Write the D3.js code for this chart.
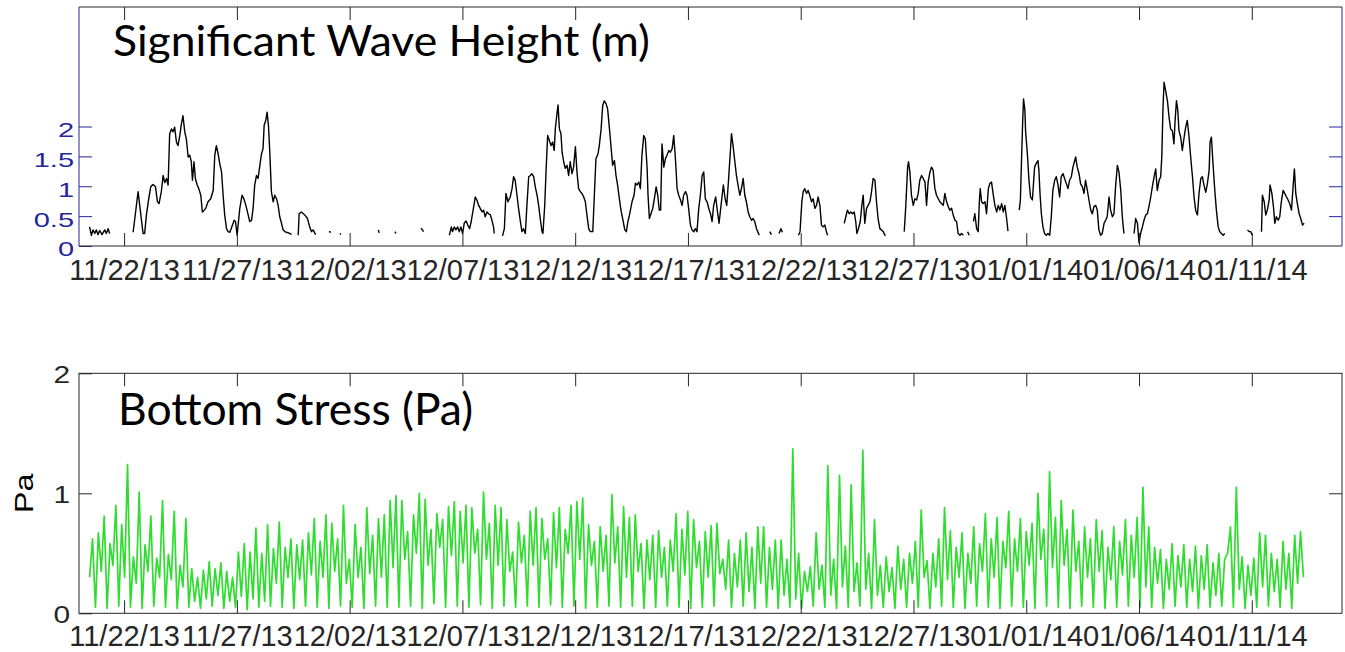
<!DOCTYPE html>
<html>
<head>
<meta charset="utf-8">
<script src="https://cdn.jsdelivr.net/npm/d3@7"></script>
<style>
  html, body { margin: 0; padding: 0; background: #fff; }
  svg { display: block; }
</style>
</head>
<body>
<svg id="chart" width="1345" height="652"></svg>
<script>
// ---------------------------------------------------------------
// Data
// ---------------------------------------------------------------

// Date tick labels shared by both panels
const tickLabels = ["11/22/13", "11/27/13", "12/02/13", "12/07/13", "12/12/13",
                    "12/17/13", "12/22/13", "12/27/13", "01/01/14", "01/06/14", "01/11/14"];

// Significant wave height (m); time in days since 2013-11-20 00:00 UTC.
// null marks a gap in the record.
const waveDay = [
  0.47,0.55,0.62,0.70,0.77,0.84,0.92,1.02,1.14,1.21,1.29,1.36,null,
  2.40,2.62,2.84,2.91,2.99,3.09,3.18,3.28,3.39,3.48,3.55,3.65,3.73,3.80,3.88,3.95,4.02,4.10,4.17,4.24,4.32,4.39,4.47,4.54,4.61,4.69,4.76,4.84,4.91,4.98,5.03,5.10,5.16,5.24,5.31,5.40,5.47,5.55,5.62,5.72,5.84,5.95,6.02,6.09,6.17,6.24,6.32,6.39,6.46,6.54,6.61,6.69,6.88,6.94,7.01,7.13,7.23,7.31,7.40,7.50,7.57,7.65,7.72,7.79,7.87,7.94,8.02,8.09,8.16,8.21,8.28,8.34,8.40,8.46,8.53,8.61,8.68,8.76,8.83,8.90,8.98,9.05,9.13,9.20,9.35,9.42,null,
  9.72,9.76,9.86,10.01,10.13,10.23,10.31,10.38,10.49,null,
  11.08,11.17,null,11.57,11.61,null,13.27,13.31,null,14.01,14.05,null,15.17,15.28,null,
  16.42,16.51,16.56,16.64,16.71,16.79,16.86,16.93,17.01,17.08,17.16,17.24,17.32,17.39,17.50,17.57,17.64,17.72,17.79,17.87,17.94,18.01,18.09,18.16,18.24,18.31,18.38,18.41,null,
  18.78,18.86,18.93,19.02,19.12,19.20,19.27,19.34,19.42,19.49,19.57,19.64,19.71,19.79,19.86,19.94,20.01,20.08,20.16,20.23,20.31,20.38,20.45,20.53,20.57,20.65,20.71,20.78,20.85,20.93,21.00,21.07,21.12,21.19,21.24,21.30,21.37,21.42,21.49,21.56,21.64,21.71,21.78,21.86,21.93,22.01,22.08,22.15,22.23,22.30,22.38,22.45,22.52,22.60,22.67,22.78,22.85,22.92,23.01,23.07,23.15,23.22,23.29,23.37,23.44,23.52,23.59,23.66,23.74,23.81,23.88,23.96,24.03,24.12,24.20,24.27,24.34,24.42,24.52,24.61,24.67,24.74,24.82,24.89,24.96,25.04,25.11,25.19,25.23,25.29,25.36,25.44,25.51,25.59,25.66,25.73,25.79,25.85,25.93,26.00,26.07,26.15,26.22,26.30,26.37,26.44,26.52,26.59,26.67,26.74,26.81,26.89,26.96,27.03,27.11,27.18,27.26,27.33,27.40,27.48,27.55,27.63,27.70,27.77,27.85,27.92,28.00,28.07,28.14,28.23,28.31,28.38,28.50,28.57,28.65,28.72,28.79,28.87,28.93,29.00,29.08,29.15,29.22,29.30,29.37,29.45,29.52,29.59,29.67,29.74,29.82,29.89,29.96,30.04,30.16,null,
  30.63,30.70,null,31.04,31.12,31.19,null,
  31.90,31.97,32.05,32.11,32.18,32.26,32.33,32.40,32.48,32.55,32.63,32.70,32.77,32.85,32.92,32.99,33.07,33.14,33.19,null,
  33.93,34.00,34.07,34.15,34.22,34.30,34.37,34.44,34.49,34.56,34.64,34.71,34.77,34.84,34.92,34.99,35.07,35.14,35.21,35.29,35.36,35.43,35.51,35.58,35.66,35.75,null,
  36.59,36.66,36.74,36.78,36.84,36.91,36.99,37.06,37.14,37.21,37.28,37.36,37.43,37.51,37.58,37.65,37.73,37.80,37.87,37.95,38.02,38.10,38.17,38.24,38.32,38.39,38.47,38.54,38.61,38.69,38.76,38.84,38.91,38.98,39.06,39.13,39.21,null,
  39.40,39.47,null,
  39.66,39.72,39.80,39.87,39.92,39.96,40.02,40.09,40.17,40.24,40.32,40.39,40.46,40.54,40.61,40.69,40.76,40.83,40.91,40.98,41.05,41.13,41.19,null,
  41.69,41.74,41.79,41.84,41.88,41.94,41.97,42.05,42.12,42.19,42.27,42.30,42.37,42.44,42.52,42.56,42.61,42.67,42.74,42.81,42.89,42.96,43.04,43.11,43.18,43.26,43.33,43.41,43.48,43.55,43.63,43.70,43.78,43.85,43.92,44.00,44.07,44.15,44.19,44.26,44.34,44.41,44.49,44.56,44.63,44.71,44.78,44.86,44.93,45.00,45.08,45.15,45.22,45.30,45.37,45.45,45.52,45.59,45.67,45.74,45.82,45.89,45.96,46.04,46.11,46.19,46.26,46.33,null,
  46.78,46.85,46.93,47.00,47.07,47.15,47.22,47.30,47.37,47.44,47.52,47.59,47.67,47.74,47.81,47.89,47.96,48.01,48.06,48.11,48.18,48.26,48.33,48.40,48.48,48.55,48.60,48.66,48.72,48.77,48.85,48.92,49.00,49.07,49.14,49.22,49.29,49.37,49.44,49.51,49.59,49.66,49.74,49.81,49.88,49.96,50.03,50.11,50.15,50.21,50.28,50.36,50.43,50.51,50.58,50.65,50.73,50.80,null,
  51.81,51.88,51.95,52.03,null,
  52.43,52.47,52.55,52.62,52.69,52.77,52.81,52.89,52.96,53.02,53.09,53.17,53.24,53.31,53.39,53.46,53.54,53.61,53.68,53.76,53.83,53.89,53.95,54.02,54.10,54.17,54.25,54.32
];
const waveHs = [
  0.32,0.18,0.27,0.21,0.27,0.19,0.26,0.19,0.27,0.21,0.29,0.21,null,
  0.23,0.91,0.21,0.21,0.52,0.79,0.99,1.03,0.99,0.74,0.71,0.91,1.18,1.06,1.13,1.02,1.88,1.96,1.91,1.99,1.74,1.68,1.85,2.04,2.18,1.91,1.79,1.49,1.52,1.41,1.10,1.41,1.13,1.02,0.96,0.85,0.57,0.60,0.63,0.74,0.79,0.93,1.52,1.68,1.54,1.38,1.24,0.85,0.52,0.29,0.24,0.23,0.43,0.41,0.18,0.63,0.85,0.79,0.68,0.52,0.41,0.43,0.63,1.02,1.18,1.13,1.35,1.54,1.63,2.02,2.10,2.24,2.02,1.57,0.91,0.74,0.85,0.79,0.68,0.49,0.38,0.27,0.24,0.23,0.21,0.19,null,
  0.18,0.54,0.57,0.52,0.46,0.32,0.24,0.27,0.19,null,
  0.24,0.23,null,0.19,0.21,null,0.27,0.22,null,0.24,0.21,null,0.30,0.24,null,
  0.18,0.32,0.24,0.32,0.27,0.32,0.24,0.32,0.21,0.38,0.42,0.35,0.29,0.41,0.66,0.82,0.77,0.68,0.63,0.57,0.60,0.49,0.57,0.54,0.52,0.43,0.32,0.21,null,
  0.17,0.29,0.88,0.74,0.82,0.96,1.16,1.10,0.85,0.63,0.41,0.24,0.29,0.21,0.68,1.16,1.18,1.21,1.16,0.99,0.85,0.68,0.46,0.24,0.21,0.68,1.27,1.85,1.77,1.68,1.74,1.60,1.96,2.21,2.36,1.96,1.88,1.57,1.41,1.30,1.35,1.18,1.41,1.21,1.32,1.66,1.24,0.96,0.91,0.88,0.82,0.74,0.52,0.29,0.24,0.24,0.85,1.46,1.54,1.68,1.96,2.35,2.43,2.38,2.29,1.96,1.66,1.35,1.43,1.18,1.02,0.79,0.60,0.43,0.27,0.24,0.41,0.54,0.74,0.85,1.05,1.02,1.07,0.96,1.52,1.85,1.79,1.30,0.85,0.46,0.54,0.63,0.79,0.99,0.85,0.60,0.60,1.71,1.32,1.46,1.52,1.60,1.57,1.63,1.85,1.49,0.96,0.85,0.77,0.68,0.85,0.91,0.85,0.63,0.35,0.27,0.24,0.29,0.24,0.63,0.85,1.18,1.24,0.79,0.74,0.63,0.54,0.41,0.68,0.82,0.57,0.38,0.79,1.02,0.79,0.68,1.05,1.52,1.88,1.68,1.41,1.18,1.02,0.85,0.96,1.13,0.85,0.74,0.57,0.49,0.43,0.46,0.41,0.29,0.18,null,
  0.24,0.19,null,0.21,0.29,0.23,null,
  0.18,0.24,0.74,0.91,0.96,0.88,0.93,0.85,0.74,0.79,0.63,0.68,0.82,0.68,0.35,0.32,0.35,0.24,0.18,null,
  0.38,0.49,0.60,0.54,0.57,0.54,0.57,0.41,0.21,0.29,0.41,0.68,0.85,0.38,0.63,0.68,0.74,0.91,1.13,1.10,0.74,0.46,0.29,0.27,0.24,0.17,null,
  0.24,0.68,1.32,1.41,1.24,0.85,0.68,0.79,0.77,0.88,1.10,1.18,1.13,1.07,0.68,1.07,1.24,1.32,1.27,0.96,0.85,0.79,0.74,0.71,0.68,0.88,0.74,0.66,0.60,0.63,0.52,0.43,0.41,0.21,0.18,0.21,0.18,null,
  0.24,0.18,null,
  0.41,0.54,0.29,0.24,0.74,0.96,0.74,0.71,0.74,0.54,0.96,1.05,1.07,0.85,0.68,0.57,0.68,0.60,0.71,0.57,0.68,0.46,0.25,null,
  0.60,0.77,1.43,2.07,2.46,2.27,1.93,1.54,1.10,0.82,0.77,0.93,1.32,1.38,1.43,1.27,0.88,0.54,0.32,0.21,0.18,0.21,0.18,0.49,0.93,1.10,1.16,1.02,0.82,1.16,1.21,1.13,1.04,0.96,1.10,1.16,1.32,1.43,1.49,1.32,1.21,1.04,0.99,0.88,1.10,0.93,0.77,0.60,0.54,0.66,0.68,0.60,0.27,0.18,0.21,0.38,0.43,0.49,0.82,0.60,0.49,0.54,0.99,1.35,1.24,0.93,0.49,0.21,null,
  0.21,0.46,0.38,0.05,0.21,0.32,0.43,0.52,0.54,0.66,0.82,0.99,1.16,1.29,0.93,1.10,1.16,1.49,2.27,2.74,2.60,2.43,2.16,1.96,1.93,1.71,2.10,2.43,2.27,1.93,1.82,1.60,1.82,1.99,2.10,1.82,1.49,1.16,0.82,0.60,0.52,0.88,1.13,1.16,1.02,0.90,1.04,1.27,1.74,1.82,1.38,0.93,0.60,0.32,0.24,0.21,0.18,0.21,null,
  0.27,0.24,0.24,0.18,null,
  0.24,0.85,0.74,0.52,0.60,0.77,1.02,0.88,0.66,0.38,0.49,0.43,0.49,0.74,0.93,0.88,0.82,0.77,0.71,0.60,0.99,1.29,0.88,0.71,0.54,0.46,0.35,0.38
];

// Bottom stress (Pa): alternating slack-water minima and tidal maxima,
// one value every half tidal half-cycle from the start of the record.
const stressStartDay = 0.47;
const stressStepHours = 3.105;
const stressPeak = [
  0.62,0.67,0.81,0.58,0.90,0.74,1.24,0.47,1.01,0.57,
  0.81,0.46,0.94,0.49,0.85,0.40,0.79,0.37,0.30,0.36,
  0.43,0.37,0.42,0.35,0.30,0.51,0.58,0.51,0.71,0.50,
  0.74,0.54,0.76,0.55,0.62,0.57,0.61,0.67,0.79,0.60,
  0.82,0.75,0.62,0.90,0.45,0.74,0.55,0.88,0.65,0.79,
  0.82,0.94,0.98,0.94,0.68,0.82,1.00,0.95,0.70,0.83,
  0.78,0.89,0.93,0.85,0.90,0.88,0.70,1.01,0.75,0.90,
  0.88,0.78,0.51,0.76,0.65,0.85,0.88,0.79,0.62,0.84,
  0.88,0.70,0.90,0.93,0.96,0.74,0.60,0.72,0.65,0.99,
  0.72,0.89,0.80,0.82,0.58,0.61,0.65,0.69,0.55,0.61,
  0.83,0.70,0.85,0.78,0.60,0.68,0.73,0.75,0.45,0.61,
  0.50,0.61,0.67,0.55,0.72,0.72,0.55,0.61,0.61,0.45,
  1.37,0.50,0.35,0.39,0.67,0.40,1.23,0.45,1.15,0.56,
  1.07,0.42,1.36,0.50,0.78,0.40,0.47,0.38,0.56,0.45,
  0.50,0.60,0.86,0.44,0.50,0.62,0.88,0.69,0.55,0.67,
  0.50,0.72,0.58,0.83,0.62,0.80,0.60,0.85,0.62,0.79,
  0.68,0.75,1.00,0.70,1.18,0.80,0.94,0.70,0.86,0.60,
  0.72,0.62,0.78,0.69,0.55,0.72,0.60,0.78,0.65,0.80,
  1.05,0.72,0.55,0.53,0.45,0.58,0.48,0.57,0.45,0.56,
  0.48,0.57,0.42,0.50,0.45,0.72,1.05,0.47,0.40,0.46,
  0.67,0.65,0.50,0.45,0.60,0.50,0.65,0.68
];
const stressTrough = [
  0.30,0.05,0.35,0.04,0.40,0.06,0.30,0.05,0.25,0.04,0.35,0.06,0.30,0.05,0.28,0.04,0.22,
  0.05,0.10,0.04,0.12,0.06,0.15,0.04,0.10,0.05,0.14,0.03,0.12,0.05,0.10,
  0.06,0.25,0.05,0.30,0.04,0.28,0.06,0.32,0.05,0.30,0.04,0.35,0.06,0.25,0.05,0.30,0.04,0.33,0.06,0.30,0.05,0.38,
  0.05,0.45,0.06,0.50,0.04,0.40,0.08,0.55,0.05,0.48,0.06,0.42,0.05,0.50,0.07,0.45,0.04,0.40,0.06,0.35,0.05,0.42,0.06,0.40,0.05,0.45,0.07,0.38,0.05,0.50,0.06,0.45,0.04,0.40,0.05,0.35,0.06,0.42,0.05,0.30,0.06,0.35,0.04,0.28,0.05,0.30,0.06,0.35,0.05,0.32,0.04,0.38,0.05,0.30,0.06,
  0.33,0.20,0.05,0.22,0.06,0.18,0.04,0.25,0.05,0.20,0.04,0.15,0.05,0.12,0.04,0.18,0.06,0.20,0.05,0.15,0.04,0.22,0.05,0.18,0.06,0.20,0.04,0.15,0.05,0.18,0.04,0.20,0.05,
  0.25,0.05,0.30,0.04,0.22,0.06,0.28,0.05,0.30,0.04,0.25,0.06,0.35,0.05,0.30,0.04,0.38,0.06,0.35,0.05,0.40,0.04,0.45,0.06,0.38,0.05,0.40,0.04,0.35,0.06,0.30,0.05,0.35,0.04,0.28,0.05,0.32,0.06,0.30,0.05,
  0.22,0.05,0.25,0.04,0.20,0.06,0.22,0.05,0.18,0.04,0.20,0.05,0.15,0.06,0.50,0.05,0.20,0.04,0.15,0.05,0.22,0.06,0.18,0.05,0.20,0.04,0.25,0.30
];

// ---------------------------------------------------------------
// Layout
// ---------------------------------------------------------------
const svg = d3.select("#chart");
const DAY = 864e5;
const origin = Date.UTC(2013, 10, 20);
const toDate = d => new Date(origin + d * DAY);
const parseTick = d3.utcParse("%m/%d/%y");
const tickDates = tickLabels.map(parseTick);
const fmtTick = d3.utcFormat("%m/%d/%y");

const left = 79, right = 1342;
const top1 = 7, bot1 = 246;
const top2 = 373.3, bot2 = 613.3;

const x = d3.scaleUtc()
  .domain([new Date(origin), toDate(56)])
  .range([left, right]);

const yWave = d3.scaleLinear().domain([0, 4]).range([bot1, top1]);
const yStress = d3.scaleLinear().domain([0, 2]).range([bot2, top2]);

const BLUE = "#25259c";
const AXIS = "#262626";
const TICK_FONT = "'Liberation Sans', Arial, sans-serif";
const TITLE_FONT = "Lato, 'Open Sans', sans-serif";

function styleAxis(g, color) {
  g.select(".domain").remove();
  g.selectAll(".tick line").attr("stroke", color).attr("stroke-width", 1);
  g.selectAll(".tick text").attr("fill", color).style("font-family", TICK_FONT);
}

// ---------------- top panel: wave height ----------------
const p1 = svg.append("g");

const waveData = waveDay.map((d, i) => ({ t: d == null ? null : toDate(d), v: waveHs[i] }));
const waveLine = d3.line()
  .defined(d => d.t != null && d.v != null)
  .x(d => x(d.t))
  .y(d => yWave(d.v));
p1.append("path")
  .datum(waveData)
  .attr("fill", "none")
  .attr("stroke", "#000")
  .attr("stroke-width", 1.4)
  .attr("stroke-linejoin", "round")
  .attr("d", waveLine);

// bottom date axis (ticks point inward)
p1.append("g")
  .attr("transform", `translate(0,${bot1})`)
  .call(d3.axisBottom(x).tickValues(tickDates).tickFormat(fmtTick).tickSize(-13).tickPadding(13.4))
  .call(g => styleAxis(g, AXIS))
  .call(g => g.selectAll(".tick text").style("font-size", "29px"));

// top edge ticks
p1.append("g")
  .attr("transform", `translate(0,${top1})`)
  .call(d3.axisTop(x).tickValues(tickDates).tickFormat("").tickSize(-13))
  .call(g => styleAxis(g, AXIS));

// left value axis (blue)
p1.append("g")
  .attr("transform", `translate(${left},0)`)
  .call(d3.axisLeft(yWave).tickValues([0, 0.5, 1, 1.5, 2]).tickFormat(d3.format("~g")).tickSize(-13).tickPadding(5))
  .call(g => styleAxis(g, BLUE))
  .call(g => g.selectAll(".tick text")
    .style("font-size", "21px")
    .attr("dy", "0.47em")
    .attr("transform", "scale(1.38,1)")
    .attr("x", -5 / 1.38));

// right value ticks (blue)
p1.append("g")
  .attr("transform", `translate(${right},0)`)
  .call(d3.axisRight(yWave).tickValues([0.5, 1, 1.5, 2]).tickFormat("").tickSize(-13))
  .call(g => styleAxis(g, BLUE));

// frame
p1.append("line").attr("x1", left).attr("x2", right).attr("y1", top1).attr("y2", top1).attr("stroke", AXIS);
p1.append("line").attr("x1", left).attr("x2", right).attr("y1", bot1).attr("y2", bot1).attr("stroke", AXIS);
p1.append("line").attr("x1", left).attr("x2", left).attr("y1", top1).attr("y2", bot1).attr("stroke", BLUE);
p1.append("line").attr("x1", right).attr("x2", right).attr("y1", top1).attr("y2", bot1).attr("stroke", BLUE);

p1.append("text")
  .attr("x", 113).attr("y", 56)
  .attr("textLength", 537).attr("lengthAdjust", "spacingAndGlyphs")
  .style("font-family", TITLE_FONT).style("font-size", "43px").attr("fill", "#000")
  .text("Significant Wave Height (m)");

// ---------------- bottom panel: bottom stress ----------------
const p2 = svg.append("g");

const stressData = [];
for (let k = 0; k < stressTrough.length + stressPeak.length; k++) {
  const v = (k % 2 === 0) ? stressTrough[k / 2] : stressPeak[(k - 1) / 2];
  stressData.push({ t: toDate(stressStartDay + k * stressStepHours / 24), v });
}
p2.append("path")
  .datum(stressData)
  .attr("fill", "none")
  .attr("stroke", "#2fdc2f")
  .attr("stroke-width", 1.7)
  .attr("stroke-linejoin", "round")
  .attr("d", d3.line().x(d => x(d.t)).y(d => yStress(d.v)));

p2.append("g")
  .attr("transform", `translate(0,${bot2})`)
  .call(d3.axisBottom(x).tickValues(tickDates).tickFormat(fmtTick).tickSize(-13).tickPadding(12))
  .call(g => styleAxis(g, AXIS))
  .call(g => g.selectAll(".tick text").style("font-size", "29px"));

p2.append("g")
  .attr("transform", `translate(0,${top2})`)
  .call(d3.axisTop(x).tickValues(tickDates).tickFormat("").tickSize(-13))
  .call(g => styleAxis(g, AXIS));

p2.append("g")
  .attr("transform", `translate(${left},0)`)
  .call(d3.axisLeft(yStress).tickValues([0, 1, 2]).tickFormat(d3.format("d")).tickSize(-13).tickPadding(9))
  .call(g => styleAxis(g, AXIS))
  .call(g => g.selectAll(".tick text")
    .style("font-size", "23px")
    .attr("dy", "0.42em")
    .attr("transform", "scale(1.3,1)")
    .attr("x", -9 / 1.3));

p2.append("g")
  .attr("transform", `translate(${right},0)`)
  .call(d3.axisRight(yStress).tickValues([1]).tickFormat("").tickSize(-13))
  .call(g => styleAxis(g, AXIS));

p2.append("rect")
  .attr("x", left).attr("y", top2)
  .attr("width", right - left).attr("height", bot2 - top2)
  .attr("fill", "none").attr("stroke", AXIS);

p2.append("text")
  .attr("transform", `translate(33,${yStress(1)}) rotate(-90) scale(1.3,1)`)
  .attr("text-anchor", "middle")
  .style("font-family", TICK_FONT).style("font-size", "25px").attr("fill", "#000")
  .text("Pa");

p2.append("text")
  .attr("x", 118).attr("y", 425)
  .attr("textLength", 355).attr("lengthAdjust", "spacingAndGlyphs")
  .style("font-family", TITLE_FONT).style("font-size", "44px").attr("fill", "#000")
  .text("Bottom Stress (Pa)");
</script>
</body>
</html>
